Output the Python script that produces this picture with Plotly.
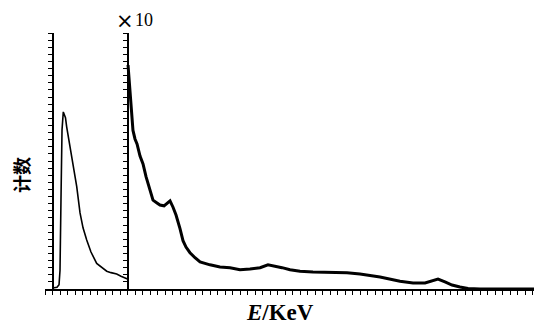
import plotly.graph_objects as go

# ---- data ----
# low-energy part, plotted at true scale
energy_low = [0.0, 0.6, 0.87, 1.0, 1.13, 1.27, 1.44, 1.6, 1.73, 1.89, 2.33, 2.73, 3.23,
              3.67, 4.07, 4.56, 5.13, 5.89, 6.47, 7.23, 7.8, 8.56, 9.13, 9.67, 10.0]
counts_low = [0.15, 0.25, 0.6, 2.6, 12.5, 22.4, 24.9, 24.4, 24.1, 22.8, 20.0, 17.2, 14.4,
              10.7, 8.6, 6.9, 5.2, 3.6, 3.1, 2.5, 2.3, 2.1, 1.8, 1.6, 1.4]

# high-energy part, raw counts (drawn magnified x10)
energy_high = [10.07, 10.2, 10.33, 10.6, 10.73, 11.0, 11.27, 11.67, 12.07, 12.47, 13.0, 13.4,
               13.93, 14.33, 14.87, 15.27, 15.67, 16.07, 16.47, 17.0, 17.4, 17.8, 18.33,
               19.0, 19.67, 21.0, 22.33, 23.67, 25.0, 26.33, 27.67, 28.73, 29.8, 30.6,
               31.67, 33.0, 34.73, 37.0, 39.27, 41.0, 43.67, 46.33, 48.07, 49.67, 50.6,
               51.4, 52.33, 53.27, 54.33, 55.4, 57.0, 65.0]
counts_high = [3.15, 2.96, 2.72, 2.44, 2.23, 2.11, 2.04, 1.87, 1.76, 1.58, 1.38, 1.25,
               1.21, 1.18, 1.17, 1.21, 1.24, 1.15, 1.04, 0.85, 0.68, 0.59, 0.51,
               0.44, 0.38, 0.34, 0.31, 0.30, 0.27, 0.28, 0.30, 0.34, 0.32, 0.30,
               0.27, 0.25, 0.24, 0.23, 0.23, 0.21, 0.17, 0.11, 0.085, 0.085, 0.11,
               0.14, 0.10, 0.056, 0.028, 0.007, 0.0, 0.0]
magnify = 10
magnify_sign = "×"
magnify_label = "10"
x_title_italic = "E"
x_title_rest = "/KeV"
y_title = "计数"

x_range = [-1, 65]
y_range = [0, 36]
break_at = 10

# page body has an 8px margin; size the figure so it fills the 542x326 window
OFF = 8
W, H = 542 - OFF, 326 - OFF
ML, MR, MT, MB = 45 - OFF, 2, 33 - OFF, 37
PW, PH = W - ML - MR, H - MT - MB


def px_x(p):  # window pixel -> paper
    return (p - OFF - ML) / PW


def px_y(p):
    return (H - MB - (p - OFF)) / PH


fig = go.Figure()
fig.add_trace(go.Scatter(x=energy_low, y=counts_low, mode="lines",
                         line=dict(color="black", width=1.6), showlegend=False))
fig.add_trace(go.Scatter(x=energy_high, y=[c * magnify for c in counts_high], mode="lines",
                         line=dict(color="black", width=3), showlegend=False))

span = x_range[1] - x_range[0]
axis_common = dict(range=y_range, showgrid=False, zeroline=False, showline=True,
                   linecolor="black", linewidth=2, ticks="outside", ticklen=4,
                   tickwidth=1.4, tickcolor="black", dtick=1, tick0=0,
                   showticklabels=False, fixedrange=True, automargin=False)

fig.update_layout(
    width=W, height=H,
    margin=dict(l=ML, r=MR, t=MT, b=MB, autoexpand=False),
    plot_bgcolor="white", paper_bgcolor="white",
    xaxis=dict(range=x_range, showgrid=False, zeroline=False, showline=True,
               linecolor="black", linewidth=2, ticks="outside", ticklen=4,
               tickwidth=1.4, tickcolor="black", dtick=1, tick0=0,
               showticklabels=False, automargin=False, domain=[0, 1]),
    yaxis=dict(anchor="free", position=(0 - x_range[0]) / span, **axis_common),
    yaxis2=dict(anchor="free", overlaying="y",
                position=(break_at - x_range[0]) / span, **axis_common),
)
fig.add_trace(go.Scatter(x=[break_at], y=[0], yaxis="y2", mode="markers",
                         marker=dict(opacity=0), showlegend=False, hoverinfo="skip"))

fig.add_annotation(x=px_x(125), y=px_y(21), xref="paper", yref="paper",
                   text=magnify_sign, showarrow=False, xanchor="center", yanchor="middle",
                   font=dict(family="DejaVu Sans", size=21, color="black"))
fig.add_annotation(x=px_x(133), y=px_y(20), xref="paper", yref="paper",
                   text=magnify_label, showarrow=False, xanchor="left", yanchor="middle",
                   font=dict(family="Liberation Serif", size=18, color="black"))
fig.add_annotation(x=px_x(21), y=px_y(175), xref="paper", yref="paper",
                   text="<b>" + y_title + "</b>", showarrow=False, textangle=-90,
                   xanchor="center", yanchor="middle",
                   font=dict(family="Noto Sans CJK SC", size=18, color="black"))
fig.add_annotation(x=px_x(280), y=px_y(312), xref="paper", yref="paper",
                   text="<b><i>" + x_title_italic + "</i>" + x_title_rest + "</b>",
                   showarrow=False, xanchor="center", yanchor="middle",
                   font=dict(family="Liberation Serif", size=23, color="black"))

fig.write_html("out.html")
